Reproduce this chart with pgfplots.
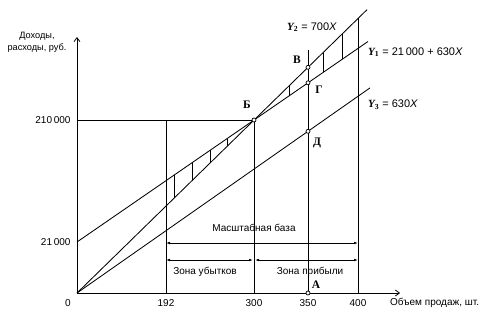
\documentclass[border=0pt]{standalone}
\usepackage{fontspec}
\setmainfont{Liberation Sans}
\newfontfamily\serifbold{Liberation Serif}
\usepackage{pgfplots}
\pgfplotsset{compat=1.18}
\usetikzlibrary{arrows.meta}

% Break-even chart drawn schematically: the horizontal and vertical
% positions are layout units, the tick labels carry the real values.
\newcommand{\pt}[1]{{\serifbold\bfseries #1}}
\newcommand{\Yl}[1]{{\serifbold\bfseries\itshape Y\textsubscript{\upshape #1}}}

\begin{document}
\begin{tikzpicture}[font=\fontsize{10}{12}\selectfont]
\useasboundingbox (-77pt,-23pt) rectangle (410pt,293pt);
\begin{axis}[
  x=1pt, y=1pt,
  anchor=origin, at={(0pt,0pt)},
  xmin=0, xmax=323, ymin=0, ymax=256,
  axis lines=left,
  axis line style={line width=0.8pt,-{Straight Barb[length=4pt,width=6pt]}},
  xtick={89,177,231,281},
  xticklabels={192,300,350,400},
  ytick={51,173},
  yticklabels={21\,000,210\,000},
  major tick length=0pt,
  ticklabel style={font=\fontsize{10}{12}\selectfont},
  xticklabel style={yshift=-3pt},
  yticklabel style={xshift=-3pt},
  clip=false,
  line/.style={draw=black, line width=0.85pt, mark=none},
  hatch/.style={draw=black, line width=0.6pt, mark=none},
]
% revenue and cost lines
\addplot[line] coordinates {(0,0) (290,283.3)};        % Y2 = 700X
\addplot[line] coordinates {(0,51) (291,251.5)};       % Y1 = 21000 + 630X
\addplot[line] coordinates {(0,0) (293,205.1)};        % Y3 = 630X

% guide lines
\addplot[line] coordinates {(0,173) (177,173)};
\addplot[line] coordinates {(89,0) (89,173)};
\addplot[line] coordinates {(177,0) (177,173)};
\addplot[line] coordinates {(231,0) (231,243)};
\addplot[line] coordinates {(281,0) (281,274.5)};

% hatching between Y1 and Y2: loss zone and profit zone
\addplot[hatch] coordinates {(97,117.8) (97,94.8)};
\addplot[hatch] coordinates {(115,130.2) (115,112.4)};
\addplot[hatch] coordinates {(133,142.6) (133,129.9)};
\addplot[hatch] coordinates {(150,154.4) (150,146.6)};
\addplot[hatch] coordinates {(212,197.1) (212,207.1)};
\addplot[hatch] coordinates {(246,220.5) (246,240.3)};
\addplot[hatch] coordinates {(265,233.6) (265,258.9)};

% marked points
\addplot[only marks, mark=*, mark size=2pt,
  mark options={fill=white, draw=black, line width=0.7pt}]
  coordinates {(177,173) (231,225.7) (231,210.2) (231,161.7) (231,0)};

% dimension arrows
\draw[line width=0.7pt, {Latex[length=4pt,width=2.6pt]}-{Latex[length=4pt,width=2.6pt]}]
  (axis cs:89,50) -- (axis cs:281,50);
\draw[line width=0.7pt, {Latex[length=4pt,width=2.6pt]}-{Latex[length=4pt,width=2.6pt]}]
  (axis cs:89,33) -- (axis cs:176,33);
\draw[line width=0.7pt, {Latex[length=4pt,width=2.6pt]}-{Latex[length=4pt,width=2.6pt]}]
  (axis cs:178,33) -- (axis cs:281,33);
\node at (axis cs:177,65) {Масштабная база};
\node at (axis cs:128,21) {Зона убытков};
\node at (axis cs:233,21) {Зона прибыли};

% point names
\node[font=\fontsize{11.5}{13}\selectfont] at (axis cs:170,188) {\pt{Б}};
\node[font=\fontsize{11.5}{13}\selectfont] at (axis cs:220,233) {\pt{В}};
\node[font=\fontsize{11.5}{13}\selectfont] at (axis cs:242,203) {\pt{Г}};
\node[font=\fontsize{11.5}{13}\selectfont] at (axis cs:240,150) {\pt{Д}};
\node[font=\fontsize{11.5}{13}\selectfont] at (axis cs:239,8) {\pt{A}};

% line equations
\node[anchor=west, inner sep=0pt, font=\fontsize{11}{13}\selectfont] at (axis cs:210,266) {\Yl{2} = 700\textit{X}};
\node[anchor=west, inner sep=0pt, font=\fontsize{11}{13}\selectfont] at (axis cs:291,241) {\Yl{1} = 21\,000 + 630\textit{X}};
\node[anchor=west, inner sep=0pt, font=\fontsize{11}{13}\selectfont] at (axis cs:291,188) {\Yl{3} = 630\textit{X}};

% axis captions and origin
\node at (axis cs:-9,-10) {0};
\node[anchor=west, inner sep=0pt] at (axis cs:313,-10) {Объем продаж, шт.};
\node[align=center, font=\fontsize{9.2}{12}\selectfont] at (axis cs:-40,251) {Доходы,\\расходы, руб.};
\end{axis}
\end{tikzpicture}
\end{document}
